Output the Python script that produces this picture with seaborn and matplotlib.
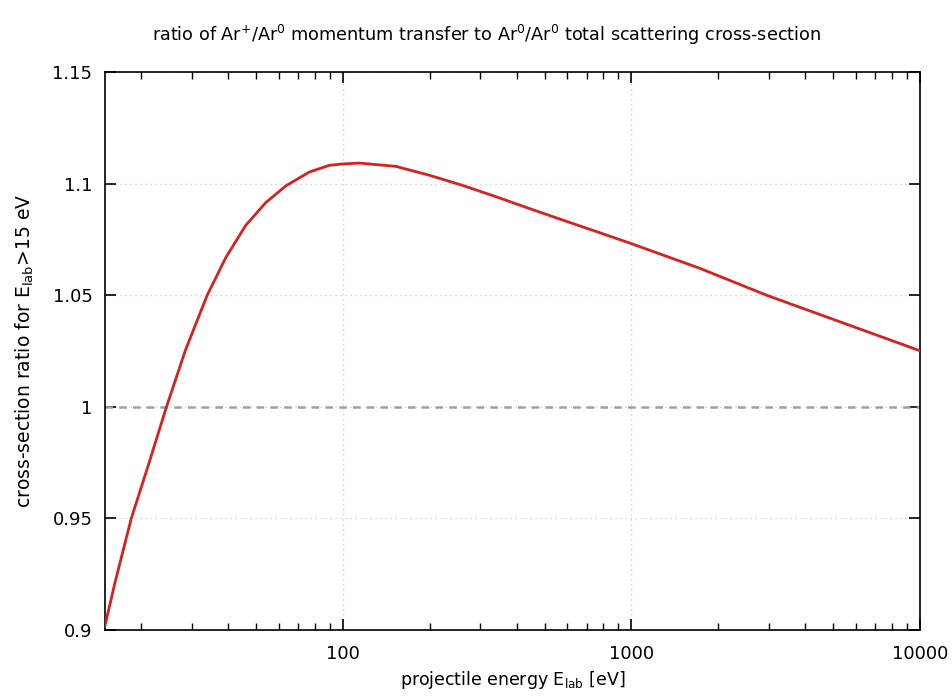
import numpy as np
import pandas as pd
import matplotlib
matplotlib.use("Agg")
import matplotlib.pyplot as plt
import matplotlib.ticker as mticker
import seaborn as sns

# data
energy_ev = [15, 16.24, 18.5, 21.2, 24.5, 28.5, 33.9, 39.3, 46.1, 54.1, 63.5, 76.6,
             89.9, 100, 114, 153, 200, 260, 340, 444, 580, 757, 1000, 1730, 2940,
             5000, 10000]
ratio = [0.902, 0.9212, 0.95, 0.9739, 1.0, 1.0254, 1.05, 1.0668, 1.0813, 1.0915, 1.0990, 1.1052,
         1.1082, 1.1088, 1.1092, 1.1077, 1.1037, 1.0992, 1.0941, 1.0888, 1.0836, 1.0785,
         1.0731, 1.062, 1.05, 1.0392, 1.0251]
ref_level = 1.0
x_major = [100, 1000, 10000]
x_major_labels = ["100", "1000", "10000"]
y_major = [0.9, 0.95, 1.0, 1.05, 1.1, 1.15]
y_major_labels = ["0.9", "0.95", "1", "1.05", "1.1", "1.15"]

sns.set_style("white")
plt.rcParams['font.family'] = ['DejaVu Sans']
plt.rcParams['mathtext.fontset'] = 'dejavusans'
plt.rcParams['text.color'] = 'black'
plt.rcParams['axes.labelcolor'] = 'black'
plt.rcParams['xtick.color'] = 'black'
plt.rcParams['ytick.color'] = 'black'

df = pd.DataFrame({"E": energy_ev, "ratio": ratio})

fig = plt.figure(figsize=(9.52, 6.98), dpi=100)
ax = fig.add_axes([105/952, 1-630/698, (920-105)/952, (630-72)/698])

ax.set_xscale("log")
ax.set_xlim(15, 10000)
ax.set_ylim(0.9, 1.15)

# grid
for xv in x_major:
    ax.axvline(xv, color="#c8c8c8", lw=0.9, ls=(0, (1, 3)), zorder=0)
for yv in y_major:
    ax.axhline(yv, color="#c8c8c8", lw=0.9, ls=(0, (1, 3)), zorder=0)

ax.axhline(ref_level, color="#a0a0a0", lw=1.8, ls=(0, (3, 2.5)), zorder=1)

sns.lineplot(data=df, x="E", y="ratio", ax=ax, color="#d92020", lw=2.0,
             zorder=3, legend=False)

ax.xaxis.set_major_locator(mticker.FixedLocator(x_major))
ax.xaxis.set_major_formatter(mticker.FixedFormatter(x_major_labels))
minors = [m * d for d in (10, 100, 1000) for m in range(2, 10)]
minors = [v for v in minors if v >= 15]
ax.xaxis.set_minor_locator(mticker.FixedLocator(minors))
ax.xaxis.set_minor_formatter(mticker.NullFormatter())
ax.yaxis.set_major_locator(mticker.FixedLocator(y_major))
ax.yaxis.set_major_formatter(mticker.FixedFormatter(y_major_labels))
ax.yaxis.set_minor_locator(mticker.NullLocator())

ax.tick_params(which="both", direction="in", top=True, right=True,
               bottom=True, left=True, color="black", labelsize=13)
ax.tick_params(axis="x", which="both", pad=11)
ax.tick_params(axis="y", which="both", pad=9)
ax.tick_params(which="major", length=8, width=1.2)
ax.tick_params(which="minor", length=5, width=1.0)
for s in ax.spines.values():
    s.set_visible(True)
    s.set_color("black")
    s.set_linewidth(1.2)

ax.set_xlabel(r"projectile energy E$_{\mathrm{lab}}$ [eV]", fontsize=12.5, labelpad=4)
ax.set_ylabel(r"cross-section ratio for E$_{\mathrm{lab}}$>15 eV", fontsize=13.5, labelpad=12)
fig.text(0.5115, 1-35/698,
         r"ratio of Ar$^{+}$/Ar$^{0}$ momentum transfer to Ar$^{0}$/Ar$^{0}$ total scattering cross-section",
         ha="center", va="center", fontsize=12.7)

fig.savefig("out.png", dpi=100, facecolor="white")
